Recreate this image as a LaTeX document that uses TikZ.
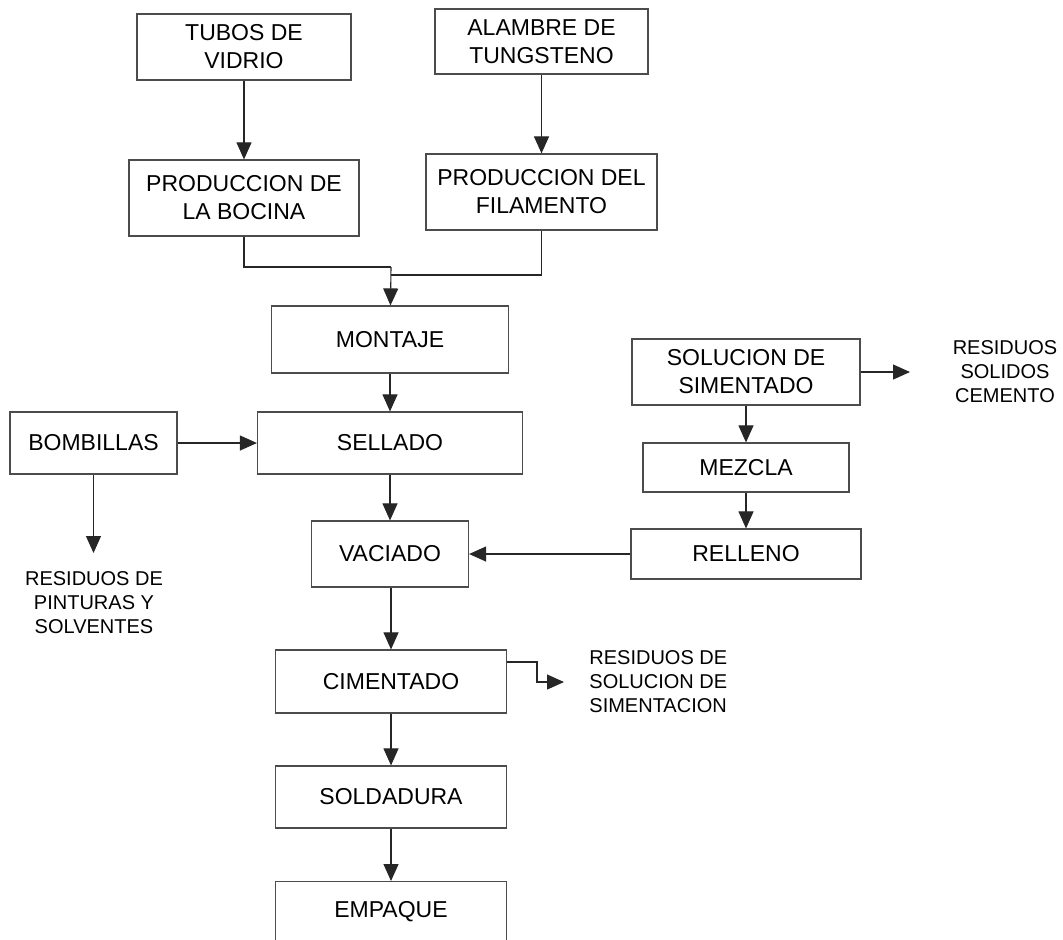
\documentclass[tikz,border=0pt]{standalone}
\usepackage{fontspec}
\setmainfont{Liberation Sans}
\usetikzlibrary{arrows.meta}

\tikzset{
	caja/.style={draw=black!70, line width=0.6pt, inner sep=0pt, align=center,
		font=\fontsize{11.5}{14}\selectfont},
	residuo/.style={inner sep=0pt, align=center, font=\fontsize{10}{12}\selectfont},
	flecha/.style={draw=black!85, line width=0.55pt, -{Triangle[length=8.5pt, width=7.5pt]}},
	linea/.style={draw=black!85, line width=0.55pt}
}

\begin{document}
\begin{tikzpicture}[x=0.5pt, y=-0.5pt]
	\useasboundingbox (0,0) rectangle (1063,939);
	\clip (0,0) rectangle (1063,939);
	
	% Materias primas
	\node[caja, minimum width=107pt, minimum height=33pt] (tubos) at (244,47) {TUBOS DE\\VIDRIO};
	\node[caja, minimum width=106.5pt, minimum height=32.5pt] (alambre) at (541.5,41.5) {ALAMBRE DE\\TUNGSTENO};
	\node[caja, minimum width=115pt, minimum height=38pt] (bocina) at (244,198) {PRODUCCION DE\\LA BOCINA};
	\node[caja, minimum width=115.5pt, minimum height=38pt] (filamento) at (541.5,192) {PRODUCCION DEL\\FILAMENTO};
	
	% Linea principal
	\node[caja, minimum width=118.5pt, minimum height=33.5pt] (montaje) at (390,339.5) {MONTAJE};
	\node[caja, minimum width=132.5pt, minimum height=31pt] (sellado) at (390,443) {SELLADO};
	\node[caja, minimum width=83.5pt, minimum height=31pt] (bombillas) at (93.5,443) {BOMBILLAS};
	\node[caja, minimum width=78.5pt, minimum height=33pt] (vaciado) at (390,554) {VACIADO};
	\node[caja, minimum width=115.5pt, minimum height=31.5pt] (cimentado) at (391,681.5) {CIMENTADO};
	\node[caja, minimum width=115.5pt, minimum height=31pt] (soldadura) at (391,797) {SOLDADURA};
	\node[caja, minimum width=115.5pt, minimum height=31pt, anchor=north] (empaque) at (391,881) {};
	\node[font=\fontsize{11.5}{14}\selectfont] (empaquetxt) at (391,912) {EMPAQUE};
	
	% Rama del cemento
	\node[caja, minimum width=114pt, minimum height=33pt] (solucion) at (746,372) {SOLUCION DE\\SIMENTADO};
	\node[caja, minimum width=103pt, minimum height=24.5pt] (mezcla) at (746,467.5) {MEZCLA};
	\node[caja, minimum width=115pt, minimum height=25pt] (relleno) at (746,554) {RELLENO};
	
	% Residuos
	\node[residuo] (respinturas) at (94,603) {RESIDUOS DE\\PINTURAS Y\\SOLVENTES};
	\node[residuo] (ressolidos) at (1005,372) {RESIDUOS\\SOLIDOS\\CEMENTO};
	\node[residuo, align=left, anchor=west] (ressolucion) at (589,682) {RESIDUOS DE\\SOLUCION DE\\SIMENTACION};
	
	\coordinate (union) at (391,267);
	\coordinate (union2) at (391,275);
	\coordinate (tippinturas) at (93.5,553);
	\coordinate (tipsolidos) at (910,372);
	\coordinate (codo) at (537,662);
	\coordinate (tipsolucion) at (564,682);
	
	% Conectores
	\draw[flecha] (tubos) -- (bocina);
	\draw[flecha] (alambre) -- (filamento);
	\draw[linea] (bocina.south) |- (union);
	\draw[linea] (filamento.south) |- (union2);
	\draw[flecha] (union) -- (montaje);
	\draw[flecha] (montaje) -- (sellado);
	\draw[flecha] (bombillas) -- (sellado);
	\draw[flecha] (bombillas.south) -- (tippinturas);
	\draw[flecha] (sellado) -- (vaciado);
	\draw[flecha] (solucion) -- (mezcla);
	\draw[flecha] (mezcla) -- (relleno);
	\draw[flecha] (solucion.east) -- (tipsolidos);
	\draw[flecha] (relleno) -- (vaciado);
	\draw[flecha] (vaciado.south -| cimentado.north) -- (cimentado);
	\draw[flecha] (cimentado) -- (soldadura);
	\draw[flecha] (soldadura) -- (empaque);
	\draw[flecha] (cimentado.east |- codo) -- (codo) |- (tipsolucion);
\end{tikzpicture}
\end{document}
